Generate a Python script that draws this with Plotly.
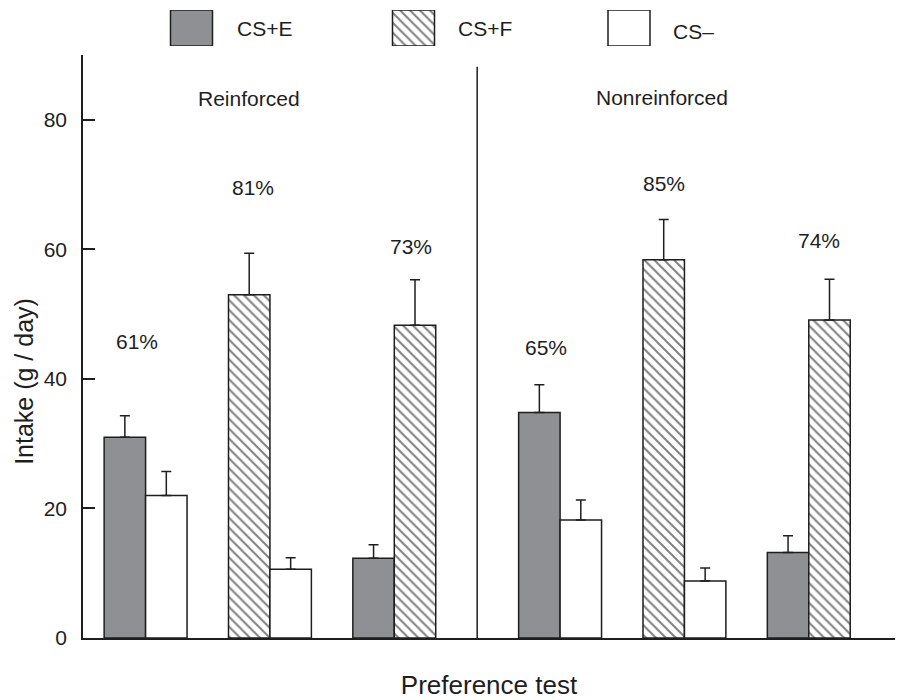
import plotly.graph_objects as go

# ---------------- data ----------------
# six preference tests: 3 reinforced, 3 nonreinforced
cs_e_mean = [31.0, None, 12.3, 34.8, None, 13.2]
cs_e_sem = [3.3, None, 2.1, 4.3, None, 2.6]
cs_f_mean = [None, 53.0, 48.3, None, 58.4, 49.1]
cs_f_sem = [None, 6.4, 7.0, None, 6.2, 6.3]
cs_m_mean = [22.0, 10.6, None, 18.2, 8.8, None]
cs_m_sem = [3.7, 1.8, None, 3.1, 2.0, None]
pref_labels = ["61%", "81%", "73%", "65%", "85%", "74%"]
section_labels = ["Reinforced", "Nonreinforced"]
y_ticks = [0, 20, 40, 60, 80]

# ---------------- layout helpers ----------------
FONT = "Liberation Sans, Arial, Helvetica, sans-serif"
INK = "#1e1e1e"
GRAY = "#8f9094"

n_tests = len(pref_labels)
# group centres: 3 bar-widths apart, extra gap between the two sections
centers = [3 * g + (1 if g >= 3 else 0) for g in range(n_tests)]

def side(series, g):
    # CS+E always left; CS- always right; CS+F left unless paired with CS+E
    if series == "e":
        return -0.5
    if series == "m":
        return 0.5
    return 0.5 if cs_e_mean[g] is not None else -0.5

def build(series, means, sems):
    xs, ys, es = [], [], []
    for g in range(n_tests):
        if means[g] is None:
            continue
        xs.append(centers[g] + side(series, g))
        ys.append(means[g])
        es.append(sems[g])
    return xs, ys, es

HATCH = dict(shape="\\", fgcolor="#000000", bgcolor="white", size=7, solidity=0.28)

def err(arr):
    return dict(type="data", array=arr, arrayminus=[0] * len(arr), symmetric=False,
                color=INK, thickness=1.5, width=5)

fig = go.Figure()

xe, ye, ee = build("e", cs_e_mean, cs_e_sem)
fig.add_trace(go.Bar(x=xe, y=ye, width=1, name="CS+E",
                     marker=dict(color=GRAY, line=dict(color=INK, width=1.5)),
                     error_y=err(ee), showlegend=False))
xf, yf, ef = build("f", cs_f_mean, cs_f_sem)
fig.add_trace(go.Bar(x=xf, y=yf, width=1, name="CS+F",
                     marker=dict(color="white", line=dict(color=INK, width=1.5),
                                 pattern=HATCH),
                     error_y=err(ef), showlegend=False))
xm, ym, em = build("m", cs_m_mean, cs_m_sem)
fig.add_trace(go.Bar(x=xm, y=ym, width=1, name="CS–",
                     marker=dict(color="white", line=dict(color=INK, width=1.5)),
                     error_y=err(em), showlegend=False))

# ---------------- legend swatches (drawn on a small top axis) ----------------
legend_names = ["CS+E", "CS+F", "CS–"]
legend_box_x = [191.5, 413.5, 629]
legend_text_x = [235, 456, 671]
legend_text_y = [0.956, 0.956, 0.950]
legend_markers = [
    dict(color=GRAY, line=dict(color=INK, width=1.5)),
    dict(color="white", line=dict(color=INK, width=1.5), pattern=HATCH),
    dict(color="white", line=dict(color=INK, width=1.5)),
]
for name, bx, mk in zip(legend_names, legend_box_x, legend_markers):
    fig.add_trace(go.Bar(x=[bx], y=[1], width=42, marker=mk, xaxis="x2", yaxis="y2",
                         showlegend=False, hoverinfo="skip"))

annotations = []
for name, tx, ty in zip(legend_names, legend_text_x, legend_text_y):
    annotations.append(dict(x=tx, y=ty, xref="x2", yref="paper", text=name,
                            showarrow=False, xanchor="left", yanchor="middle",
                            font=dict(family=FONT, size=21, color=INK)))

# percentage labels
label_dx = [-0.2, -0.4, 0.4, -0.35, -0.5, 0.25]
label_y = [45.8, 69.6, 60.4, 44.8, 70.1, 61.3]
for g in range(n_tests):
    annotations.append(dict(x=centers[g] + label_dx[g], y=label_y[g], xref="x", yref="y",
                            text=pref_labels[g], showarrow=False,
                            font=dict(family=FONT, size=21, color=INK)))

# section labels
section_x = [2.5, 12.45]
section_y = [83.3, 83.5]
for t, sx, sy in zip(section_labels, section_x, section_y):
    annotations.append(dict(x=sx, y=sy, xref="x", yref="y", text=t, showarrow=False,
                            font=dict(family=FONT, size=21, color=INK)))

# y-axis title (placed as rotated text, slightly below the axis centre as in the source)
annotations.append(dict(x=-0.0727, y=0.403, xref="paper", yref="paper",
                        text="Intake (g / day)", textangle=-90, showarrow=False,
                        xanchor="center", yanchor="middle",
                        font=dict(family=FONT, size=25, color=INK)))

fig.update_layout(
    width=900, height=700,
    margin=dict(l=83, r=5, t=0, b=62),
    paper_bgcolor="white", plot_bgcolor="white",
    barmode="overlay",
    font=dict(family=FONT, size=21, color=INK),
    xaxis=dict(range=[-1.51, 18.08], showgrid=False, zeroline=False, automargin=False,
               showticklabels=False, ticks="", showline=True, linecolor=INK, linewidth=1.5,
               title=dict(text="Preference test", standoff=40,
                          font=dict(family=FONT, size=26, color=INK))),
    yaxis=dict(range=[0, 90], domain=[0, 0.9138], tickvals=y_ticks, showgrid=False,
               zeroline=False, showline=True, linecolor=INK, linewidth=1.5, automargin=False,
               ticks="inside", ticklen=12, tickwidth=1.5, tickcolor=INK,
               ticklabelstandoff=10,
               tickfont=dict(family=FONT, size=21, color=INK)),
    xaxis2=dict(domain=[0, 1], range=[83, 895], anchor="y2", visible=False),
    yaxis2=dict(domain=[0.9279, 0.9843], range=[0, 1], anchor="x2", visible=False),
    annotations=annotations,
    shapes=[dict(type="line", xref="x", yref="y", x0=8, x1=8, y0=0, y1=88.2,
                 line=dict(color=INK, width=1.5))],
)

fig.write_html("out.html", config={"displayModeBar": False},
               post_script="document.body.style.margin='0';")
